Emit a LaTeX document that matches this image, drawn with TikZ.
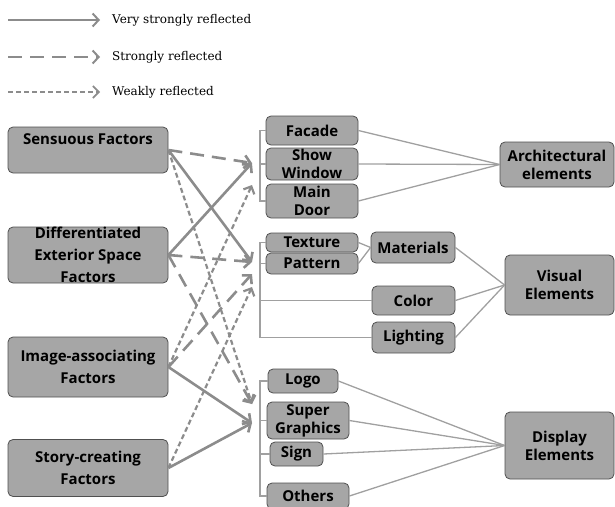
\documentclass[tikz,border=0pt]{standalone}
\usepackage{fontspec}
\setmainfont{Open Sans}
\newfontfamily\legfont{DejaVu Serif}
\usetikzlibrary{arrows.meta}
\definecolor{boxfill}{HTML}{A6A6A6}
\definecolor{boxline}{HTML}{505050}
\definecolor{arr}{HTML}{8C8C8C}
\definecolor{brk}{HTML}{A0A0A0}
\begin{document}
\begin{tikzpicture}[x=1pt,y=-1pt,
  box/.style={draw=boxline, line width=0.8pt, fill=boxfill, rounded corners=5pt,
    font=\bfseries\fontsize{15}{18}\selectfont, align=center, inner sep=0pt},
  bigbox/.style={box, font=\bfseries\fontsize{15}{22}\selectfont},
  vs/.style={draw=arr, line width=2.6pt, -{Straight Barb[length=6pt,width=13pt]}},
  st/.style={vs, dash pattern=on 14pt off 8pt},
  wk/.style={draw=arr, line width=2.2pt, dash pattern=on 5pt off 3pt,
    -{Straight Barb[length=6pt,width=12pt]}},
  br/.style={draw=brk, line width=1.3pt},
  leg/.style={font=\legfont\fontsize{12}{14}\selectfont, anchor=west, inner xsep=12pt, inner ysep=0pt},
]
\useasboundingbox (0,0) rectangle (615,506);

% legend
\coordinate (la) at (8,20);
\coordinate (lb) at (8,57);
\coordinate (lc) at (8,92);
\node[leg] (l1) at (100,20) {Very strongly reflected};
\node[leg] (l2) at (100,57) {Strongly reflected};
\node[leg] (l3) at (100,92) {Weakly reflected};
\draw[vs, line width=2pt] (la) -- (l1.west);
\draw[st, line width=2pt] (lb) -- (l2.west);
\draw[wk, line width=1.6pt] (lc) -- (l3.west);

% bracket x
\coordinate (bx) at (260,0);

% left boxes
\node[bigbox, minimum width=160pt, minimum height=46pt] (sen) at (88,150) {Sensuous Factors\\ \mbox{}};
\node[bigbox, minimum width=160pt, minimum height=56pt] (dif) at (88,255) {Differentiated\\Exterior Space\\Factors};
\node[bigbox, minimum width=160pt, minimum height=60pt] (img) at (88,367) {Image-associating\\Factors};
\node[bigbox, minimum width=160pt, minimum height=57pt] (sto) at (88,468) {Story-creating\\Factors};

% middle boxes
\node[box, minimum width=92pt, minimum height=29pt] (fac) at (312,130.5) {Facade};
\node[box, minimum width=92pt, minimum height=32pt] (sw) at (312,164) {Show\\Window};
\node[box, minimum width=92pt, minimum height=34pt] (md) at (312,201) {Main\\Door};
\node[box, minimum width=92pt, minimum height=19pt] (tex) at (312,242.5) {Texture};
\node[box, minimum width=92pt, minimum height=21pt] (pat) at (312,263.5) {Pattern};
\node[box, minimum width=84pt, minimum height=31pt] (mat) at (413,247.5) {Materials};
\node[box, minimum width=83pt, minimum height=29pt] (col) at (413.5,300.5) {Color};
\node[box, minimum width=83pt, minimum height=31pt] (lig) at (413.5,337.5) {Lighting};
\node[box, minimum width=70pt, minimum height=24pt] (logo) at (303,381) {Logo};
\node[box, minimum width=82pt, minimum height=37pt] (sg) at (308,420.5) {Super\\Graphics};
\node[box, minimum width=53pt, minimum height=24pt] (sign) at (296.5,454) {Sign};
\node[box, minimum width=82pt, minimum height=26pt] (oth) at (308,496) {Others};

% right boxes
\node[box, minimum width=114pt, minimum height=45pt] (arch) at (557,164.5) {Architectural\\elements};
\node[box, minimum width=109pt, minimum height=60pt] (vis) at (559.5,285) {Visual\\Elements};
\node[box, minimum width=109pt, minimum height=67pt] (disp) at (559.5,445.5) {Display\\Elements};

% brackets
\draw[br] (fac.west) -- (fac.west -| bx) |- (md.west);
\draw[br] (sw.west) -- (sw.west -| bx);
\draw[br] (tex.west) -- (tex.west -| bx) |- (lig.west);
\draw[br] (pat.west) -- (pat.west -| bx);
\draw[br] (col.west) -- (col.west -| bx);
\draw[br] (logo.west) -- (logo.west -| bx) |- (oth.west);
\draw[br] (sg.west) -- (sg.west -| bx);
\draw[br] (sign.west) -- (sign.west -| bx);

% connectors to right
\draw[br] (fac.east) -- (arch.west);
\draw[br] (sw.east) -- (arch.west);
\draw[br] (md.east) -- (arch.west);
\draw[br] (tex.east) -- (mat.west);
\draw[br] (pat.east) -- (mat.west);
\draw[br] (mat.east) -- (vis.west);
\draw[br] (col.east) -- (vis.west);
\draw[br] (lig.east) -- (vis.west);
\draw[br] (logo.east) -- (disp.west);
\draw[br] (sg.east) -- (disp.west);
\draw[br] (sign.east) -- (disp.west);
\draw[br] (oth.east) -- (disp.west);

% arrow targets
\coordinate (tA1) at (252,163);
\coordinate (tA2) at (252,185);
\coordinate (tV1) at (252,262);
\coordinate (tV2) at (252,274);
\coordinate (tV3) at (252,287);
\coordinate (tD1) at (252,404);
\coordinate (tD2) at (252,423);

% factor arrows
\draw[st] (sen.east) -- (tA1);
\draw[vs] (sen.east) -- (tV1);
\draw[wk] (sen.east) -- (tD1);
\draw[vs] (dif.east) -- (tA1);
\draw[st] (dif.east) -- (tV1);
\draw[st] (dif.east) -- (tD1);
\draw[wk] (img.east) -- (tA2);
\draw[st] (img.east) -- (tV2);
\draw[vs] (img.east) -- (tD2);
\draw[wk] (sto.east) -- (tV3);
\draw[vs] (sto.east) -- (tD2);
\end{tikzpicture}
\end{document}
